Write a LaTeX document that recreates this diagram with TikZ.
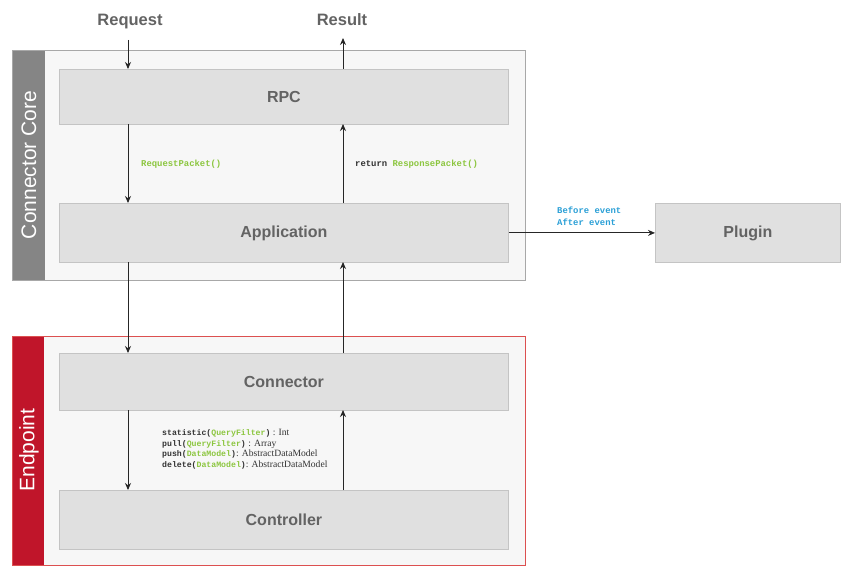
\documentclass[tikz,border=0pt]{standalone}
\usepackage{fontspec}
\setmainfont{Liberation Serif}
\setsansfont{Liberation Sans}
\setmonofont{Liberation Mono}
\usetikzlibrary{arrows.meta}
\definecolor{outerfill}{HTML}{F7F7F7}
\definecolor{outerline}{HTML}{A8A8A8}
\definecolor{innerfill}{HTML}{E0E0E0}
\definecolor{innerline}{HTML}{C4C4C4}
\definecolor{txtgray}{HTML}{636363}
\definecolor{stripgray}{HTML}{858585}
\definecolor{stripred}{HTML}{C0152A}
\definecolor{redline}{HTML}{DC5050}
\definecolor{codegreen}{HTML}{8CC63F}
\definecolor{codeblue}{HTML}{2A9FD6}
\definecolor{codeblack}{HTML}{333333}
\tikzset{
  outerbox/.style={draw=outerline, fill=outerfill, line width=1pt},
  innerbox/.style={draw=innerline, fill=innerfill, line width=0.8pt, anchor=north west, inner sep=0pt},
  boxtext/.style={text=txtgray, font=\sffamily\bfseries\fontsize{16}{19}\selectfont},
  flow/.style={-{Stealth[length=7pt,width=6pt]}, line width=0.9pt, draw=black!85},
  toplabel/.style={font=\sffamily\bfseries\fontsize{16.5}{19}\selectfont, text=txtgray, anchor=base},
  code/.style={font=\ttfamily\bfseries\fontsize{8.9}{10}\selectfont, text=codeblack, anchor=west, inner sep=0pt},
  mcode/.style={font=\ttfamily\bfseries\fontsize{8.2}{10}\selectfont, text=codeblack, anchor=west, inner sep=0pt},
  sidelabel/.style={font=\sffamily\fontsize{21}{25}\selectfont, text=white, rotate=90},
}
\newcommand{\gr}[1]{\textcolor{codegreen}{#1}}
\newcommand{\sr}[1]{{\rmfamily\mdseries\fontsize{9.6}{10}\selectfont #1}}
\begin{document}
\begin{tikzpicture}[x=1pt,y=-1pt]
\useasboundingbox (0,0) rectangle (854,578);
% Connector Core group
\draw[outerbox] (12,51) rectangle (525,280);
\fill[stripgray] (12.5,51.5) rectangle (45,279.5);
\node[sidelabel] (corelabel) at (29,165) {Connector Core};
% Endpoint group
\draw[draw=redline, fill=outerfill, line width=1pt] (12,336) rectangle (525,565);
\fill[stripred] (12.5,336.5) rectangle (44,564.5);
\node[sidelabel] (endlabel) at (29,450) {Endpoint};
% inner boxes
\node[innerbox, minimum width=449pt, minimum height=55pt] (rpc) at (59,69) {};
\node[boxtext] (rpct) at (rpc.center) {RPC};
\node[innerbox, minimum width=449pt, minimum height=59pt] (app) at (59,203) {};
\node[boxtext] (appt) at (app.center) {Application};
\node[innerbox, minimum width=449pt, minimum height=57pt] (conn) at (59,353) {};
\node[boxtext] (connt) at (conn.center) {Connector};
\node[innerbox, minimum width=449pt, minimum height=59pt] (ctrl) at (59,490) {};
\node[boxtext] (ctrlt) at (ctrl.center) {Controller};
\node[innerbox, minimum width=185pt, minimum height=59pt] (plugin) at (655,203) {};
\node[boxtext] (plugint) at (plugin.center) {Plugin};
% top labels
\node[toplabel] (req) at (130,26) {Request};
\node[toplabel] (res) at (342,26) {Result};
\coordinate (reqs) at (128,40);
\coordinate (rese) at (343,38);
% column coordinates
\coordinate (rpcL) at (128,124); \coordinate (rpcR) at (343,124);
\coordinate (rpcTL) at (128,69); \coordinate (rpcTR) at (343,69);
\coordinate (appTL) at (128,203); \coordinate (appTR) at (343,203);
\coordinate (appBL) at (128,262); \coordinate (appBR) at (343,262);
\coordinate (connTL) at (128,353); \coordinate (connTR) at (343,353);
\coordinate (connBL) at (128,410); \coordinate (connBR) at (343,410);
\coordinate (ctrlTL) at (128,490); \coordinate (ctrlTR) at (343,490);
% arrows
\draw[flow] (reqs) -- (rpcTL);
\draw[flow] (rpcTR) -- (rese);
\draw[flow] (rpcL) -- (appTL);
\draw[flow] (appTR) -- (rpcR);
\draw[flow] (appBL) -- (connTL);
\draw[flow] (connTR) -- (appBR);
\draw[flow] (connBL) -- (ctrlTL);
\draw[flow] (ctrlTR) -- (connBR);
\draw[flow] (app.east) -- (plugin.west);
% code labels
\node[code] (l1) at (141,164) {\gr{RequestPacket()}};
\node[code] (l2) at (355,164) {return \gr{ResponsePacket()}};
\node[code, text=codeblue] (l3) at (557,210.5) {Before event};
\node[code, text=codeblue] (l4) at (557,222.5) {After event};
\node[mcode] (m1) at (162,433.5) {statistic(\gr{QueryFilter})\sr{ : Int}};
\node[mcode] (m2) at (162,444) {pull(\gr{QueryFilter})\sr{ : Array}};
\node[mcode] (m3) at (162,454.5) {push(\gr{DataModel})\sr{: AbstractDataModel}};
\node[mcode] (m4) at (162,465) {delete(\gr{DataModel})\sr{: AbstractDataModel}};
\end{tikzpicture}
\end{document}
